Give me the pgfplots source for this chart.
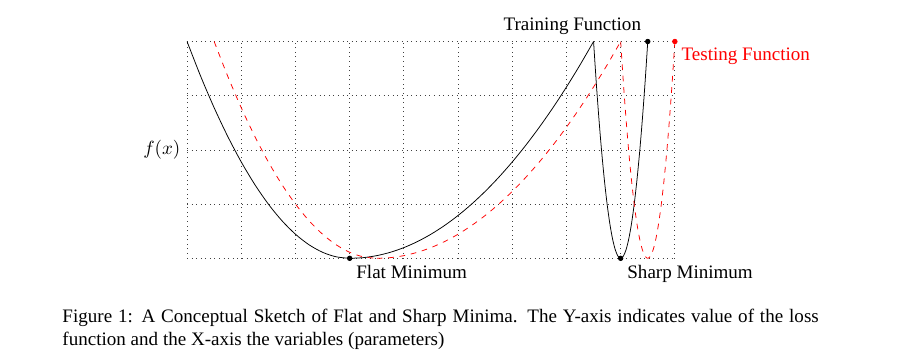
\documentclass[border=0pt]{standalone}
\usepackage{fontspec}
\setmainfont{Liberation Serif}
\usepackage{pgfplots}
\pgfplotsset{compat=1.18}
\begin{document}
\begin{tikzpicture}
\path[use as bounding box] (-98.2pt,-53.9pt) rectangle (373.2pt,135.6pt);
\begin{axis}[
  at={(0,0)}, anchor=south west,
  scale only axis, width=9cm, height=4cm,
  xmin=0, xmax=9, ymin=0, ymax=4,
  xtick={0,...,9}, ytick={0,...,4},
  xticklabels={}, yticklabels={},
  major tick length=0pt,
  grid=major,
  grid style={dotted, black!75},
  axis line style={draw=none},
  clip=false,
]
% Training function
\addplot[black, thin, smooth] coordinates {
(0,4) (0.25,3.3611) (0.5,2.7778) (0.75,2.25) (1,1.7778) (1.25,1.3611) (1.5,1.0)
(1.75,0.6944) (2,0.4444) (2.25,0.25) (2.5,0.1111) (2.75,0.0278) (3,0)};
\addplot[black, thin, smooth] coordinates {
(3,0) (3.25,0.0123) (3.5,0.0494) (3.75,0.1111) (4,0.1975) (4.25,0.3086) (4.5,0.4444)
(4.75,0.6049) (5,0.7901) (5.25,1.0) (5.5,1.2346) (5.75,1.4938) (6,1.7778) (6.25,2.0864)
(6.5,2.4198) (6.75,2.7778) (7,3.1605) (7.25,3.5679) (7.5,4)};
\addplot[black, thin, smooth] coordinates {
(7.5,4) (7.55,3.24) (7.6,2.56) (7.65,1.96) (7.7,1.44) (7.75,1.0) (7.8,0.64) (7.85,0.36)
(7.9,0.16) (7.95,0.04) (8,0) (8.05,0.04) (8.1,0.16) (8.15,0.36) (8.2,0.64) (8.25,1.0)
(8.3,1.44) (8.35,1.96) (8.4,2.56) (8.45,3.24) (8.5,4)};
% Testing function
\addplot[red, thin, dashed, smooth] coordinates {
(0.5,4) (0.75,3.3611) (1,2.7778) (1.25,2.25) (1.5,1.7778) (1.75,1.3611) (2,1.0)
(2.25,0.6944) (2.5,0.4444) (2.75,0.25) (3,0.1111) (3.25,0.0278) (3.5,0)};
\addplot[red, thin, dashed, smooth] coordinates {
(3.5,0) (3.75,0.0123) (4,0.0494) (4.25,0.1111) (4.5,0.1975) (4.75,0.3086) (5,0.4444)
(5.25,0.6049) (5.5,0.7901) (5.75,1.0) (6,1.2346) (6.25,1.4938) (6.5,1.7778) (6.75,2.0864)
(7,2.4198) (7.25,2.7778) (7.5,3.1605) (7.75,3.5679) (8,4)};
\addplot[red, thin, dashed, smooth] coordinates {
(8,4) (8.05,3.24) (8.1,2.56) (8.15,1.96) (8.2,1.44) (8.25,1.0) (8.3,0.64) (8.35,0.36)
(8.4,0.16) (8.45,0.04) (8.5,0) (8.55,0.04) (8.6,0.16) (8.65,0.36) (8.7,0.64) (8.75,1.0)
(8.8,1.44) (8.85,1.96) (8.9,2.56) (8.95,3.24) (9,4)};
% Points
\addplot[only marks, mark=*, mark size=1.2pt, black] coordinates {(3,0) (8,0) (8.5,4)};
\addplot[only marks, mark=*, mark size=1.2pt, red] coordinates {(9,4)};
% Labels
\node[below right] at (axis cs:3,0) {Flat Minimum};
\node[below right] at (axis cs:8,0) {Sharp Minimum};
\node[above left] at (axis cs:8.5,4) {Training Function};
\node[below right, red] at (axis cs:9,4) {Testing Function};
\node[left] at (axis cs:0,2) {$f(x)$};
\end{axis}
\node[anchor=north west, inner sep=0pt, text width=397pt, align=justify] at (-65.6pt,-26.4pt)
{Figure 1: A Conceptual Sketch of Flat and Sharp Minima. The Y-axis indicates value of the loss function and the X-axis the variables (parameters)};
\end{tikzpicture}
\end{document}
